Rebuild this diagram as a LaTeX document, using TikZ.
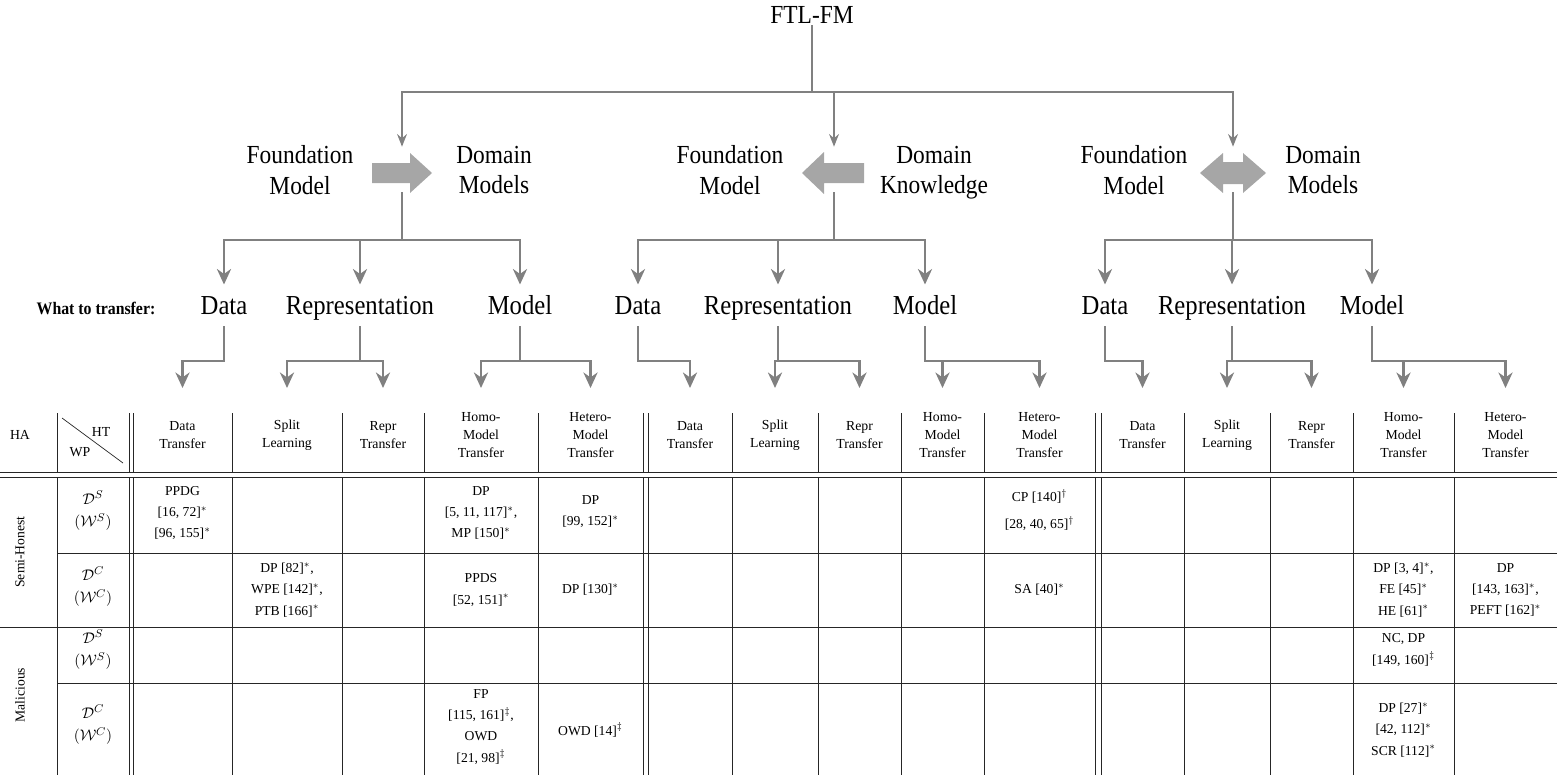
\documentclass[tikz,border=0pt]{standalone}
\usepackage{fontspec}
\setmainfont{Liberation Serif}
\newfontfamily\treefont[FakeStretch=0.9]{Liberation Serif}
\usetikzlibrary{arrows.meta}

\begin{document}
\begin{tikzpicture}[x=0.025cm, y=-0.025cm,
  lvlone/.style = {font=\treefont\fontsize{18.5}{21.5}\selectfont, align=center, inner sep=1pt},
  lvltwo/.style = {font=\treefont\fontsize{19.5}{22}\selectfont, inner sep=1pt, text height=13pt, text depth=4pt},
  link/.style = {draw=black!50, line width=2pt, line cap=rect},
  tip/.style = {link, -{Stealth[length=11pt, width=10pt, inset=3.5pt]}},
  toptip/.style = {draw=black!50, line width=1.4pt, -{Stealth[length=9pt, width=7pt, inset=3pt]}},
  blockbox/.style = {minimum width=46pt, minimum height=29pt, inner sep=0pt},
  head/.style = {font=\fontsize{9.8}{12.5}\selectfont, align=center, inner sep=0pt},
  cell/.style = {font=\fontsize{9.7}{15}\selectfont, align=center, inner sep=0pt},
  wp/.style = {font=\fontsize{11}{16}\selectfont, align=center, inner sep=0pt},
  rule/.style = {draw=black!85, line width=0.6pt}]
\useasboundingbox (0,0) rectangle (1557,775);

\node[lvlone] (root) at (812,15) {FTL-FM};

\node[lvlone] (fm1) at (300,170) {Foundation\\Model};
\node[blockbox] (ar1) at (402,173) {};
\node[lvlone] (dm1) at (494,170) {Domain\\Models};
\node[lvlone] (fm2) at (730,170) {Foundation\\Model};
\node[blockbox] (ar2) at (834,173) {};
\node[lvlone] (dk2) at (934,173) {Domain\\Knowledge};
\node[lvlone] (fm3) at (1134,170) {Foundation\\Model};
\node[blockbox] (ar3) at (1233,173) {};
\node[lvlone] (dm3) at (1323,170) {Domain\\Models};

\fill[black!35, shift={(ar1)}] (-30,-10) -- (8,-10) -- (8,-20) -- (30,0) -- (8,20) -- (8,10) -- (-30,10) -- cycle;
\fill[black!35, shift={(ar2)}] (30,-10) -- (-10,-10) -- (-10,-21) -- (-32,0) -- (-10,21) -- (-10,10) -- (30,10) -- cycle;
\fill[black!35, shift={(ar3)}] (-33,0) -- (-10,-20) -- (-10,-11) -- (10,-11) -- (10,-20) -- (33,0) -- (10,20) -- (10,11) -- (-10,11) -- (-10,20) -- cycle;

\draw[toptip, shorten >=4pt] (root.south) -- (812,92) -| (ar1.north);
\draw[toptip, shorten >=4pt] (root.south) -- (812,92) -| (ar2.north);
\draw[toptip, shorten >=4pt] (root.south) -- (812,92) -| (ar3.north);

\node[font=\treefont\bfseries\fontsize{12.5}{15}\selectfont] (what) at (96,308) {What to transfer:};
\node[lvltwo] (d1) at (224,308) {Data};
\node[lvltwo] (r1) at (360,308) {Representation};
\node[lvltwo] (m1) at (520,308) {Model};
\node[lvltwo] (d2) at (638,308) {Data};
\node[lvltwo] (r2) at (778,308) {Representation};
\node[lvltwo] (m2) at (925,308) {Model};
\node[lvltwo] (d3) at (1105,308) {Data};
\node[lvltwo] (r3) at (1232,308) {Representation};
\node[lvltwo] (m3) at (1372,308) {Model};

\draw[link] (ar1.south) -- (ar1.south |- 0,240);
\draw[link] (d1 |- 0,240) -- (m1 |- 0,240);
\draw[link] (ar2.south) -- (ar2.south |- 0,240);
\draw[link] (d2 |- 0,240) -- (m2 |- 0,240);
\draw[link] (ar3.south) -- (ar3.south |- 0,240);
\draw[link] (d3 |- 0,240) -- (m3 |- 0,240);
\foreach \n in {d1,r1,m1,d2,r2,m2,d3,r3,m3}
  \draw[tip, shorten >=7pt] (\n |- 0,240) -- (\n.north);

\foreach \i/\x in {1/182.5, 2/287, 3/383, 4/481, 5/590.5, 6/690, 7/775, 8/859.5, 9/942.5, 10/1039.5,
                   11/1142.5, 12/1227, 13/1311.5, 14/1403.5, 15/1505.5}
  \coordinate (c\i) at (\x,388);

\draw[tip, shorten <=4pt] (d1.south) |- (c1 |- 0,361) -- (c1);
\draw[link, shorten <=4pt] (r1.south) -- (r1.south |- 0,361);
\draw[tip] (c2 |- 0,361) -- (c3 |- 0,361) -- (c3);
\draw[tip] (c2 |- 0,361) -- (c2);
\draw[link, shorten <=4pt] (m1.south) -- (m1.south |- 0,361);
\draw[tip] (c4 |- 0,361) -- (c5 |- 0,361) -- (c5);
\draw[tip] (c4 |- 0,361) -- (c4);

\draw[tip, shorten <=4pt] (d2.south) |- (c6 |- 0,361) -- (c6);
\draw[link, shorten <=4pt] (r2.south) -- (r2.south |- 0,361);
\draw[tip] (c7 |- 0,361) -- (c8 |- 0,361) -- (c8);
\draw[tip] (c7 |- 0,361) -- (c7);
\draw[tip, shorten <=4pt] (m2.south) |- (c10 |- 0,361) -- (c10);
\draw[tip] (c9 |- 0,361) -- (c9);

\draw[tip, shorten <=4pt] (d3.south) |- (c11 |- 0,361) -- (c11);
\draw[link, shorten <=4pt] (r3.south) -- (r3.south |- 0,361);
\draw[tip] (c12 |- 0,361) -- (c13 |- 0,361) -- (c13);
\draw[tip] (c12 |- 0,361) -- (c12);
\draw[tip, shorten <=4pt] (m3.south) |- (c15 |- 0,361) -- (c15);
\draw[tip] (c14 |- 0,361) -- (c14);

\foreach \x in {57,129,133,232,342,424,538,643,648,732,818,901,984,1095,1101,1184,1270,1353,1454} {
  \draw[rule] (\x,413) -- (\x,472);
  \draw[rule] (\x,477) -- (\x,775);
}
\draw[rule] (0,472) -- (1557,472);
\draw[rule] (0,477) -- (1557,477);
\draw[rule] (57,553) -- (1557,553);
\draw[rule] (0,627) -- (1557,627);
\draw[rule] (57,683) -- (1557,683);
\draw[rule, line width=0.5pt] (62,418) -- (123,463);

\node[head] (ha) at (20,435) {HA};
\node[head] (ht) at (101,432) {HT};
\node[head] (wp) at (80,452) {WP};
\foreach \i/\t in {1/{Data\\Transfer}, 2/{Split\\Learning}, 3/{Repr\\Transfer}, 4/{Homo-\\Model\\Transfer}, 5/{Hetero-\\Model\\Transfer},
                   6/{Data\\Transfer}, 7/{Split\\Learning}, 8/{Repr\\Transfer}, 9/{Homo-\\Model\\Transfer}, 10/{Hetero-\\Model\\Transfer},
                   11/{Data\\Transfer}, 12/{Split\\Learning}, 13/{Repr\\Transfer}, 14/{Homo-\\Model\\Transfer}, 15/{Hetero-\\Model\\Transfer}}
  \node[head] (h\i) at (c\i |- 0,435) {\t};

\node[cell, rotate=90] (semi) at (20,552) {Semi-Honest};
\node[cell, rotate=90] (mal) at (20,695) {Malicious};
\node[wp] (w1) at (93,511) {$\mathcal{D}^S$\\$(\mathcal{W}^S)$};
\node[wp] (w2) at (93,587) {$\mathcal{D}^C$\\$(\mathcal{W}^C)$};
\node[wp] (w3) at (93,650) {$\mathcal{D}^S$\\$(\mathcal{W}^S)$};
\node[wp] (w4) at (93,725) {$\mathcal{D}^C$\\$(\mathcal{W}^C)$};

\node[cell] (ppdg) at (c1 |- 0,513) {PPDG\\{}[16, 72]$^*$\\{}[96, 155]$^*$};
\node[cell] (dpmp) at (c4 |- 0,513) {DP\\{}[5, 11, 117]$^*$,\\MP [150]$^*$};
\node[cell] (dphet) at (c5 |- 0,512) {DP\\{}[99, 152]$^*$};
\node[cell] (cp) at (c10 |- 0,510) {CP [140]$^\dagger$\\[4pt]{}[28, 40, 65]$^\dagger$};

\node[cell] (dpsl) at (c2 |- 0,590) {DP [82]$^*$,\\WPE [142]$^*$,\\PTB [166]$^*$};
\node[cell] (ppds) at (c4 |- 0,590) {PPDS\\{}[52, 151]$^*$};
\node[cell] (dp130) at (c5 |- 0,590) {DP [130]$^*$};
\node[cell] (sa) at (c10 |- 0,590) {SA [40]$^*$};
\node[cell] (dpfe) at (c14 |- 0,590) {DP [3, 4]$^*$,\\FE [45]$^*$\\HE [61]$^*$};
\node[cell] (peft) at (c15 |- 0,590) {DP\\{}[143, 163]$^*$,\\PEFT [162]$^*$};

\node[cell] (nc) at (c14 |- 0,650) {NC, DP\\{}[149, 160]$^\ddagger$};

\node[cell] (fp) at (c4 |- 0,727) {FP\\{}[115, 161]$^\ddagger$,\\OWD\\{}[21, 98]$^\ddagger$};
\node[cell] (owd) at (c5 |- 0,730) {OWD [14]$^\ddagger$};
\node[cell] (scr) at (c14 |- 0,730) {DP [27]$^*$\\{}[42, 112]$^*$\\SCR [112]$^*$};
\end{tikzpicture}
\end{document}
